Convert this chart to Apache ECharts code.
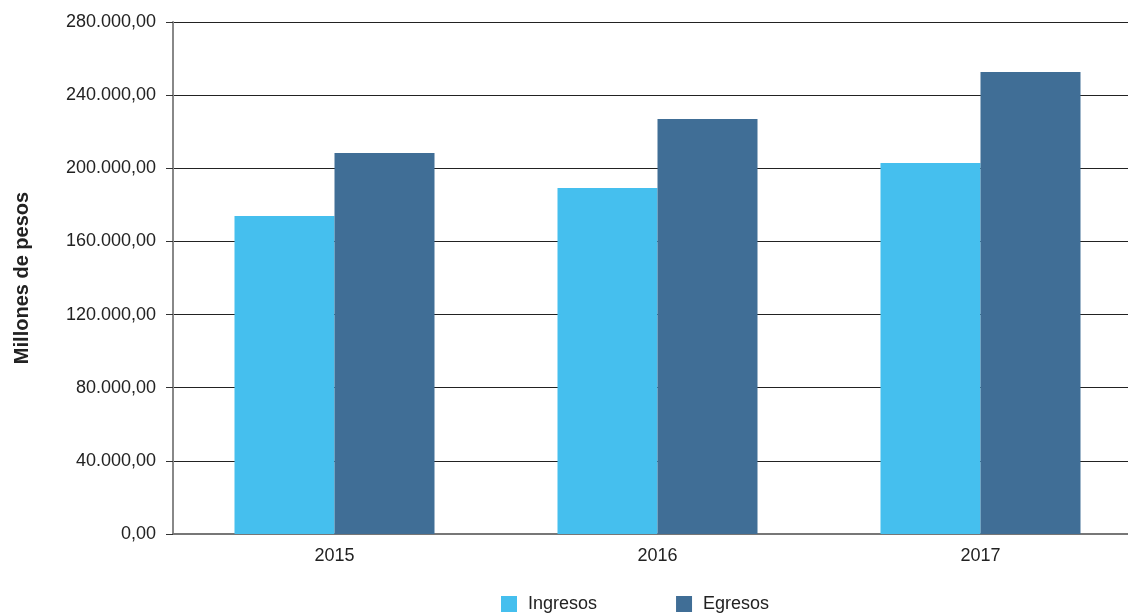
<!DOCTYPE html>
<html>
<head>
<meta charset="utf-8">
<script src="https://cdn.jsdelivr.net/npm/echarts@6/dist/echarts.min.js"></script>
<style>
html,body{margin:0;padding:0;background:#fff;}
#chart{width:1128px;height:615px;}
</style>
</head>
<body>
<div id="chart"></div>
<script>
var categories = ['2015', '2016', '2017'];
var ingresos = [173900, 189200, 202900];
var egresos = [208350, 226900, 252600];
var seriesNames = ['Ingresos', 'Egresos'];
var yTicks = [0, 40000, 80000, 120000, 160000, 200000, 240000, 280000];

function fmt(v) {
  var s = Math.round(v).toString().replace(/\B(?=(\d{3})+(?!\d))/g, '.');
  return s + ',00';
}

var chart = echarts.init(document.getElementById('chart'), null, {renderer: 'canvas'});
chart.setOption({
  animation: false,
  backgroundColor: '#ffffff',
  textStyle: {fontFamily: 'Liberation Sans, Arial, sans-serif'},
  grid: {left: 173, top: 22, bottom: 81, width: 969, containLabel: false, outerBoundsMode: 'none'},
  legend: {
    data: seriesNames,
    bottom: -3,
    left: 496,
    itemWidth: 16,
    itemHeight: 16,
    itemGap: 79,
    icon: 'rect',
    textStyle: {fontSize: 18, color: '#222', padding: [0, 0, 0, 6], fontFamily: 'Liberation Sans, Arial, sans-serif'}
  },
  xAxis: {
    type: 'category',
    data: categories,
    axisLine: {lineStyle: {color: '#777', width: 2}},
    axisTick: {show: false},
    axisLabel: {fontSize: 18, color: '#222', margin: 13}
  },
  yAxis: {
    type: 'value',
    min: yTicks[0],
    max: yTicks[yTicks.length - 1],
    interval: yTicks[1] - yTicks[0],
    name: 'Millones de pesos',
    nameLocation: 'middle',
    nameGap: 141,
    nameTextStyle: {fontSize: 20, fontWeight: 'bold', color: '#222'},
    axisLine: {show: true, lineStyle: {color: '#888', width: 2}},
    axisTick: {show: true, length: 7, lineStyle: {color: '#333'}},
    axisLabel: {fontSize: 18, color: '#222', margin: 17, formatter: fmt},
    splitLine: {show: true, lineStyle: {color: '#222', width: 1}}
  },
  series: [
    {name: seriesNames[0], type: 'bar', data: ingresos, barWidth: 100, barGap: '0%', itemStyle: {color: '#45BFEE'}},
    {name: seriesNames[1], type: 'bar', data: egresos, barWidth: 100, barGap: '0%', itemStyle: {color: '#406E96'}}
  ]
});
</script>
</body>
</html>
